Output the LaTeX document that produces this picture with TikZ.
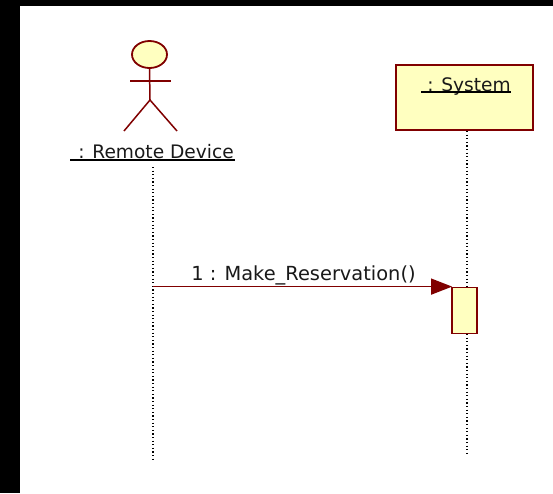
\documentclass[tikz,border=0pt]{standalone}
\usepackage{fontspec}
\setmainfont{DejaVu Sans}
\usetikzlibrary{arrows.meta,calc,shapes.geometric}
\definecolor{umlred}{RGB}{128,0,0}
\definecolor{umlfill}{RGB}{255,255,192}
\tikzset{
  x=1pt,y=-1pt,
  umlline/.style={draw=umlred,line width=1.5pt},
  umlbox/.style={draw=umlred,fill=umlfill,line width=1.8pt,rectangle,inner sep=0pt},
  lifeline/.style={draw=black,line width=1.2pt,dash pattern=on 1.2pt off 2.4pt},
  msg/.style={draw=umlred,line width=1.4pt,-{Triangle[length=21pt,width=16pt,fill=umlred]},shorten >=-1pt},
  txt/.style={inner sep=0pt,font=\fontsize{18.6pt}{22pt}\selectfont,text=black!90},
  rulel/.style={draw=black,line width=1.2pt}
}
\begin{document}
\begin{tikzpicture}
\useasboundingbox (0,0) rectangle (553,493);
\fill[white] (0,0) rectangle (553,493);
\fill[black] (0,0) rectangle (553,6);
\fill[black] (0,0) rectangle (20,493);
% actor
\node[umlbox,ellipse,minimum width=35pt,minimum height=27pt] (head) at (149.5,54.5) {};
\coordinate (hip) at (150,100);
\coordinate (armL) at (130,81);
\coordinate (armR) at (171,81);
\coordinate (legL) at (124,131);
\coordinate (legR) at (177,131);
\draw[umlline] (head.south) -- (hip);
\draw[umlline] (armL) -- (armR);
\draw[umlline,line join=miter] (legL) -- (hip) -- (legR);
\node[txt] (rd) at (156,154) {\strut: Remote Device};
\coordinate (rdL) at (70,160);
\coordinate (rdR) at (235,160);
\draw[rulel] (rdL) -- (rdR);
% system
\node[umlbox,minimum width=137pt,minimum height=65pt] (sys) at (464.5,97.5) {};
\node[txt] (syst) at (469,87) {\strut: System};
\coordinate (stL) at (421,92);
\coordinate (stR) at (511,92);
\draw[rulel] (stL) -- (stR);
% activation
\node[umlbox,minimum width=25pt,minimum height=46pt] (act) at (464.5,310.5) {};
% lifelines
\coordinate (l1a) at (153,167);
\coordinate (l1b) at (153,462);
\coordinate (l2a) at (467,131);
\coordinate (l2b) at (467,287);
\coordinate (l2c) at (467,334);
\coordinate (l2d) at (467,455);
\draw[lifeline] (l1a) -- (l1b);
\draw[lifeline] (l2a) -- (l2b);
\draw[lifeline] (l2c) -- (l2d);
% message
\draw[msg] (l1a |- act.north) -- (act.north west);
\node[txt,font=\fontsize{19.4pt}{22pt}\selectfont] (m) at (303.5,276) {\strut 1 : Make\_Reservation()};
\end{tikzpicture}
\end{document}
